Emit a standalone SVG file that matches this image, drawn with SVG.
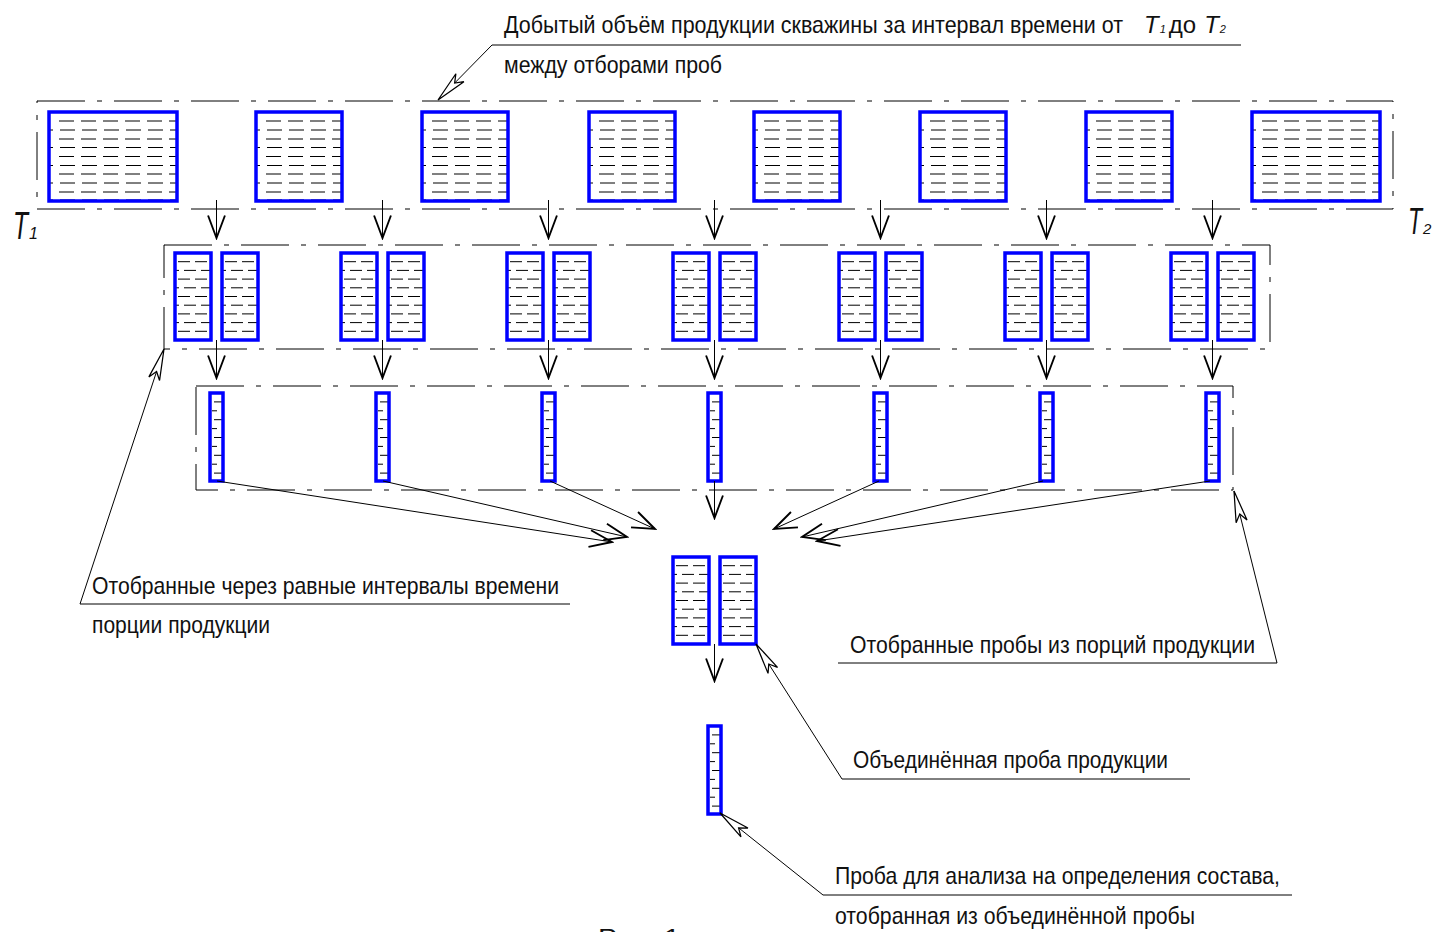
<svg xmlns="http://www.w3.org/2000/svg" width="1437" height="932" viewBox="0 0 1437 932">
<style>
.fr{fill:none;stroke:#000;stroke-width:1;stroke-dasharray:48 12 5 12}
.bx{fill:none;stroke:#0000ff;stroke-width:3.5}
.ht{stroke:#000;stroke-width:1}
.ar{fill:none;stroke:#000;stroke-width:1;marker-end:url(#open)}
.ld{fill:none;stroke:#000;stroke-width:1;marker-end:url(#hollow)}
.t{font-family:"Liberation Sans",Arial,sans-serif;font-size:24px;fill:#111}
.ti{font-family:"Liberation Sans",Arial,sans-serif;font-style:italic;fill:#111}
</style>
<defs>
<marker id="open" markerUnits="userSpaceOnUse" markerWidth="30" markerHeight="30" viewBox="-15 -8 16 16" refX="0" refY="0" orient="auto">
<path d="M-12,-4.5 L0,0 L-12,4.5" fill="none" stroke="#000" stroke-width="1"/>
</marker>
<marker id="hollow" markerUnits="userSpaceOnUse" markerWidth="40" markerHeight="20" viewBox="-28 -8 30 16" refX="0" refY="0" orient="auto">
<path d="M0,0 L-25,-4.5 L-19,0 L-25,4.5 Z" fill="#fff" stroke="#000" stroke-width="1"/>
</marker>
<g id="hW">
<g class="ht" stroke-dasharray="15 7">
<line x1="10" y1="9" x2="128" y2="9"/><line x1="0" y1="18" x2="128" y2="18" stroke-dashoffset="11"/>
<line x1="10" y1="27" x2="128" y2="27"/><line x1="0" y1="35.5" x2="128" y2="35.5" stroke-dashoffset="11"/>
<line x1="10" y1="44.5" x2="128" y2="44.5"/><line x1="0" y1="53.5" x2="128" y2="53.5" stroke-dashoffset="11"/>
<line x1="10" y1="62" x2="128" y2="62"/><line x1="0" y1="71" x2="128" y2="71" stroke-dashoffset="11"/>
<line x1="10" y1="80" x2="128" y2="80"/><line x1="0" y1="88" x2="128" y2="88" stroke-dashoffset="11"/>
</g>
<rect class="bx" x="0" y="0" width="128" height="89"/>
</g>
<g id="hN">
<g class="ht" stroke-dasharray="15 7">
<line x1="10" y1="9" x2="86" y2="9"/><line x1="0" y1="18" x2="86" y2="18" stroke-dashoffset="11"/>
<line x1="10" y1="27" x2="86" y2="27"/><line x1="0" y1="35.5" x2="86" y2="35.5" stroke-dashoffset="11"/>
<line x1="10" y1="44.5" x2="86" y2="44.5"/><line x1="0" y1="53.5" x2="86" y2="53.5" stroke-dashoffset="11"/>
<line x1="10" y1="62" x2="86" y2="62"/><line x1="0" y1="71" x2="86" y2="71" stroke-dashoffset="11"/>
<line x1="10" y1="80" x2="86" y2="80"/><line x1="0" y1="88" x2="86" y2="88" stroke-dashoffset="11"/>
</g>
<rect class="bx" x="0" y="0" width="86" height="89"/>
</g>
<g id="hB">
<g class="ht" stroke-dasharray="12 5">
<line x1="3" y1="8.7" x2="36" y2="8.7"/><line x1="0" y1="17.4" x2="36" y2="17.4" stroke-dashoffset="8"/>
<line x1="3" y1="26.1" x2="36" y2="26.1"/><line x1="0" y1="34.8" x2="36" y2="34.8" stroke-dashoffset="8"/>
<line x1="3" y1="43.5" x2="36" y2="43.5"/><line x1="0" y1="52.2" x2="36" y2="52.2" stroke-dashoffset="8"/>
<line x1="3" y1="60.9" x2="36" y2="60.9"/><line x1="0" y1="69.6" x2="36" y2="69.6" stroke-dashoffset="8"/>
<line x1="3" y1="78.3" x2="36" y2="78.3"/>
</g>
<rect class="bx" x="0" y="0" width="36" height="87"/>
</g>
<g id="hC">
<g class="ht">
<line x1="4" y1="8.9" x2="13" y2="8.9"/><line x1="2" y1="17.8" x2="7" y2="17.8"/>
<line x1="4" y1="26.7" x2="13" y2="26.7"/><line x1="2" y1="35.6" x2="7" y2="35.6"/>
<line x1="4" y1="44.5" x2="13" y2="44.5"/><line x1="2" y1="53.4" x2="7" y2="53.4"/>
<line x1="4" y1="62.3" x2="13" y2="62.3"/><line x1="2" y1="71.2" x2="7" y2="71.2"/>
<line x1="4" y1="80.1" x2="13" y2="80.1"/>
</g>
<rect class="bx" x="0" y="0" width="13" height="88"/>
</g>
</defs>
<rect width="1437" height="932" fill="#fff"/>

<g id="frames">
<rect class="fr" x="37" y="101" width="1356" height="108"/>
<rect class="fr" x="164" y="245" width="1106" height="104"/>
<rect class="fr" x="196" y="386" width="1037" height="104"/>
</g>

<g id="row1">
<use href="#hW" x="49" y="112"/>
<use href="#hN" x="256" y="112"/>
<use href="#hN" x="422" y="112"/>
<use href="#hN" x="589" y="112"/>
<use href="#hN" x="754" y="112"/>
<use href="#hN" x="920" y="112"/>
<use href="#hN" x="1086" y="112"/>
<use href="#hW" x="1252" y="112"/>
</g>

<g id="row2">
<use href="#hB" x="175" y="253"/><use href="#hB" x="222" y="253"/>
<use href="#hB" x="341" y="253"/><use href="#hB" x="388" y="253"/>
<use href="#hB" x="507" y="253"/><use href="#hB" x="554" y="253"/>
<use href="#hB" x="673" y="253"/><use href="#hB" x="720" y="253"/>
<use href="#hB" x="839" y="253"/><use href="#hB" x="886" y="253"/>
<use href="#hB" x="1005" y="253"/><use href="#hB" x="1052" y="253"/>
<use href="#hB" x="1171" y="253"/><use href="#hB" x="1218" y="253"/>
</g>

<g id="row3">
<use href="#hC" x="210" y="393"/>
<use href="#hC" x="376" y="393"/>
<use href="#hC" x="542" y="393"/>
<use href="#hC" x="708" y="393"/>
<use href="#hC" x="874" y="393"/>
<use href="#hC" x="1040" y="393"/>
<use href="#hC" x="1206" y="393"/>
</g>

<g id="combined">
<use href="#hB" x="673" y="557"/>
<use href="#hB" x="720" y="557"/>
</g>

<g id="final">
<use href="#hC" x="708" y="726"/>
</g>

<g id="connectors">
<line class="ar" x1="216.5" y1="200" x2="216.5" y2="238"/>
<line class="ar" x1="382.5" y1="200" x2="382.5" y2="238"/>
<line class="ar" x1="548.5" y1="200" x2="548.5" y2="238"/>
<line class="ar" x1="714.5" y1="200" x2="714.5" y2="238"/>
<line class="ar" x1="880.5" y1="200" x2="880.5" y2="238"/>
<line class="ar" x1="1046.5" y1="200" x2="1046.5" y2="238"/>
<line class="ar" x1="1212.5" y1="200" x2="1212.5" y2="238"/>

<line class="ar" x1="216.5" y1="340" x2="216.5" y2="378"/>
<line class="ar" x1="382.5" y1="340" x2="382.5" y2="378"/>
<line class="ar" x1="548.5" y1="340" x2="548.5" y2="378"/>
<line class="ar" x1="714.5" y1="340" x2="714.5" y2="378"/>
<line class="ar" x1="880.5" y1="340" x2="880.5" y2="378"/>
<line class="ar" x1="1046.5" y1="340" x2="1046.5" y2="378"/>
<line class="ar" x1="1212.5" y1="340" x2="1212.5" y2="378"/>

<line class="ar" x1="217" y1="481" x2="612" y2="542"/>
<line class="ar" x1="383" y1="481" x2="627" y2="537"/>
<line class="ar" x1="550" y1="481" x2="655" y2="529"/>
<line class="ar" x1="714.5" y1="481" x2="714.5" y2="518"/>
<line class="ar" x1="879" y1="481" x2="774" y2="529"/>
<line class="ar" x1="1043" y1="481" x2="802" y2="537"/>
<line class="ar" x1="1210" y1="481" x2="817" y2="541"/>

<line class="ar" x1="714.5" y1="644" x2="714.5" y2="681"/>

<polyline class="ld" points="1241,45 492,45 438,100"/>
<polyline class="ld" points="570,604 80,604 164,349"/>
<polyline class="ld" points="838,663 1277,663 1234,491"/>
<polyline class="ld" points="1190,779 842,779 756,644"/>
<polyline class="ld" points="1292,895 823,895 720,813"/>
</g>

<g id="labels">
<text class="t" x="504" y="33" textLength="619" lengthAdjust="spacingAndGlyphs">Добытый объём продукции скважины за интервал времени от</text>
<text class="t" x="1144" y="33"><tspan font-style="italic">T</tspan><tspan font-size="11" font-style="italic" dx="1">1</tspan><tspan dx="3">до</tspan><tspan dx="8" font-style="italic">T</tspan><tspan font-size="11" font-style="italic" dx="1">2</tspan></text>
<text class="t" x="504" y="73" textLength="218" lengthAdjust="spacingAndGlyphs">между отборами проб</text>

<text class="ti" x="13" y="239" font-size="38"><tspan textLength="15" lengthAdjust="spacingAndGlyphs">T</tspan><tspan font-size="16" dx="1">1</tspan></text>
<text class="ti" x="1408" y="234" font-size="36"><tspan textLength="14" lengthAdjust="spacingAndGlyphs">T</tspan><tspan font-size="15" dx="1">2</tspan></text>

<text class="t" x="92" y="594" textLength="467" lengthAdjust="spacingAndGlyphs">Отобранные через равные интервалы времени</text>
<text class="t" x="92" y="633" textLength="178" lengthAdjust="spacingAndGlyphs">порции продукции</text>

<text class="t" x="850" y="653" textLength="405" lengthAdjust="spacingAndGlyphs">Отобранные пробы из порций продукции</text>
<text class="t" x="853" y="768" textLength="315" lengthAdjust="spacingAndGlyphs">Объединённая проба продукции</text>
<text class="t" x="835" y="884" textLength="445" lengthAdjust="spacingAndGlyphs">Проба для анализа на определения состава,</text>
<text class="t" x="835" y="924" textLength="360" lengthAdjust="spacingAndGlyphs">отобранная из объединённой пробы</text>

<text class="t" x="598" y="946" font-size="30" textLength="82" lengthAdjust="spacingAndGlyphs">Рис. 1</text>
</g>
</svg>
